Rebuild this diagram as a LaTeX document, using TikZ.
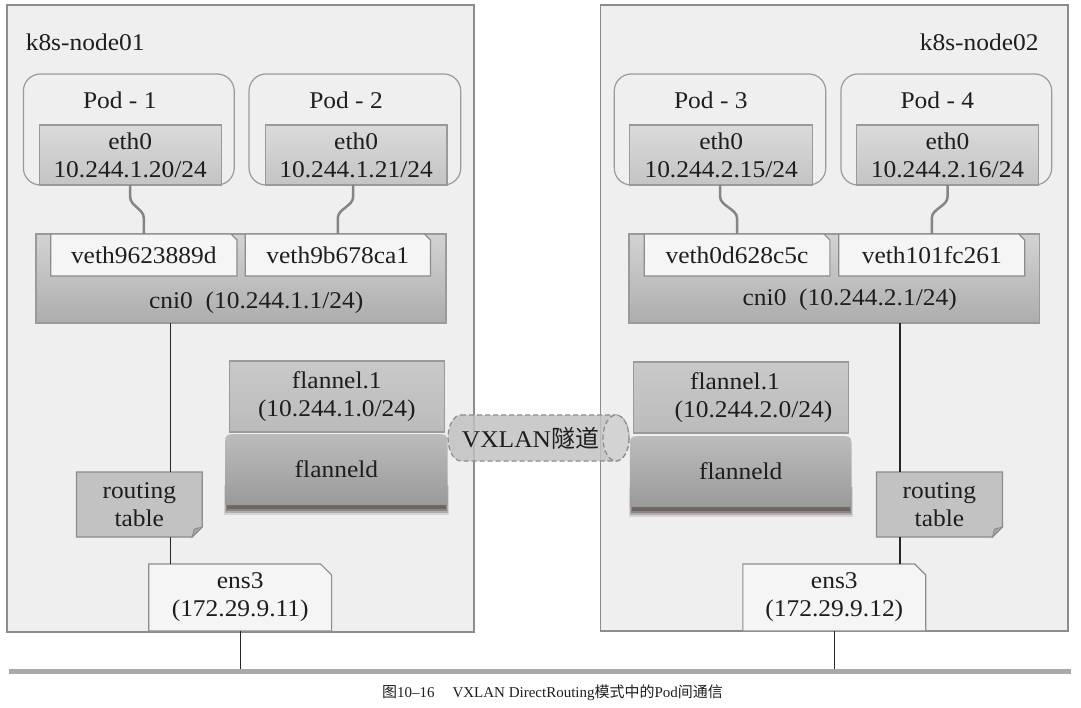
\documentclass[tikz,border=0pt]{standalone}
\usepackage{fontspec}
\setmainfont[FakeStretch=1.06]{Liberation Serif}
\newfontfamily\capfont{Liberation Serif}
\newfontfamily\cjk{Noto Sans CJK SC}
\usetikzlibrary{shadows}
\pgfdeclarelayer{back}
\pgfdeclarelayer{mid}
\pgfsetlayers{back,mid,main}
\definecolor{hostfill}{HTML}{EFEFEF}
\definecolor{hostline}{HTML}{8C8C8C}
\definecolor{podline}{HTML}{9A9A9A}
\definecolor{ethtop}{HTML}{DADADA}
\definecolor{ethbot}{HTML}{C4C4C4}
\definecolor{cnitop}{HTML}{D3D3D3}
\definecolor{cnibot}{HTML}{ADADAD}
\definecolor{vethfill}{HTML}{F5F5F5}
\definecolor{rtfill}{HTML}{C2C2C2}
\definecolor{foldc}{HTML}{A4A4A4}
\definecolor{fltop}{HTML}{C9C9C9}
\definecolor{flbot}{HTML}{BBBBBB}
\definecolor{fldtop}{HTML}{BCBCBC}
\definecolor{fldbot}{HTML}{9A9A9A}
\definecolor{shadowc}{HTML}{4A3C3A}
\definecolor{txt}{HTML}{1E1E1E}
\definecolor{busgray}{HTML}{A9A9A9}
\definecolor{wire}{HTML}{858585}
\definecolor{tunfill}{HTML}{C2C2C2}
\definecolor{tunend}{HTML}{D6D6D6}
\newcommand\cutTR[4]{%
  \begin{pgfonlayer}{mid}
  \filldraw[fill=#3,draw=#4,line width=1.2pt] (#1.south west) -- (#1.north west) -- ([xshift=-#2]#1.north east) -- ([yshift=-#2]#1.north east) -- (#1.south east) -- cycle;
  \end{pgfonlayer}}
\newcommand\cutBR[5]{%
  \begin{pgfonlayer}{mid}
  \filldraw[fill=#3,draw=#4,line width=1.2pt] (#1.south west) -- (#1.north west) -- (#1.north east) -- ([yshift=#2]#1.south east) -- ([xshift=-#2]#1.south east) -- cycle;
  \filldraw[fill=#5,draw=#4,line width=0.8pt] ([yshift=#2]#1.south east) -- ([xshift=-#2]#1.south east) -- ([xshift=-0.8*#2,yshift=0.8*#2]#1.south east) -- cycle;
  \end{pgfonlayer}}
\newcommand\flanneldshape[1]{%
  \begin{pgfonlayer}{mid}
  \foreach \o/\s/\d in {0.15/10pt/0pt,0.25/8pt/1pt,0.35/6pt/2pt,0.45/4pt/3pt}{
    \fill[shadowc,opacity=\o] ([xshift=-1pt+\d,yshift=-\s]#1.south west) rectangle ([xshift=1pt-\d,yshift=20pt]#1.south east);
  }
  \shade[top color=fldtop,bottom color=fldbot]
    (#1.south west) -- ([yshift=-14pt]#1.north west) .. controls (#1.north west) .. ([xshift=14pt]#1.north west)
    -- ([xshift=-14pt]#1.north east) .. controls (#1.north east) .. ([yshift=-14pt]#1.north east) -- (#1.south east) -- cycle;
  \end{pgfonlayer}}
\begin{document}
\begin{tikzpicture}[x=1pt,y=-1pt,font=\fontsize{24}{28}\selectfont,text=txt,
  every node/.style={inner sep=0pt,outer sep=0pt},
  hostbox/.style={draw=hostline,fill=hostfill,line width=1.6pt},
  podbox/.style={draw=podline,line width=1.2pt,rounded corners=17pt},
  ethbox/.style={draw=podline,line width=1.2pt,top color=ethtop,bottom color=ethbot,align=center},
  cnibox/.style={draw=podline,line width=1.2pt,top color=cnitop,bottom color=cnibot},
  flbox/.style={draw=podline,line width=1.2pt,top color=fltop,bottom color=flbot,align=center},
  multi/.style={align=center},
  wave/.style={draw=wire,line width=2.5pt},
  link/.style={draw=black!85,line width=1.2pt},
  tunnel/.style={draw=hostline,line width=1.2pt,dash pattern=on 5pt off 3pt,fill opacity=.85}
]
\useasboundingbox (0,0) rectangle (1081,708);
\begin{pgfonlayer}{back}
  \fill[white] (0,0) rectangle (1081,708);
  \node[hostbox,minimum width=467pt,minimum height=627pt] (host1) at (240.7,318.5) {};
  \node[hostbox,minimum width=467.6pt,minimum height=626pt] (host2) at (834.2,318) {};
  \node[cnibox,minimum width=410pt,minimum height=89pt] (cni1) at (240.9,278.5) {};
  \node[cnibox,minimum width=410.7pt,minimum height=89pt] (cni2) at (834.4,278.5) {};
\end{pgfonlayer}

\node[anchor=west] (lab1) at (25.8,42) {k8s-node01};
\node[anchor=east] (lab2) at (1038.6,42) {k8s-node02};

% pods
\node[podbox,minimum width=210.8pt,minimum height=111pt] (pod1) at (128.8,129.5) {};
\node[podbox,minimum width=211.7pt,minimum height=111pt] (pod2) at (354.9,129.5) {};
\node[podbox,minimum width=211.5pt,minimum height=111pt] (pod3) at (720,129.5) {};
\node[podbox,minimum width=210.8pt,minimum height=111pt] (pod4) at (946.3,129.5) {};
\node (pl1) at (119.8,100) {Pod - 1};
\node (pl2) at (346,100) {Pod - 2};
\node (pl3) at (710.8,100) {Pod - 3};
\node (pl4) at (937.3,100) {Pod - 4};

\node[ethbox,minimum width=181.8pt,minimum height=60pt] (eth1) at (130.2,155) {eth0\\10.244.1.20/24};
\node[ethbox,minimum width=181.8pt,minimum height=60pt] (eth2) at (356.1,155) {eth0\\10.244.1.21/24};
\node[ethbox,minimum width=182.9pt,minimum height=60pt] (eth3) at (721.2,155) {eth0\\10.244.2.15/24};
\node[ethbox,minimum width=182.2pt,minimum height=60pt] (eth4) at (947.5,155) {eth0\\10.244.2.16/24};

% veth
\node[minimum width=186.3pt,minimum height=42pt] (veth1) at (143.8,255) {veth9623889d};
\node[minimum width=185.2pt,minimum height=42pt] (veth2) at (337.8,255) {veth9b678ca1};
\node[minimum width=185.7pt,minimum height=42pt] (veth3) at (737,255) {veth0d628c5c};
\node[minimum width=186pt,minimum height=42pt] (veth4) at (931.8,255) {veth101fc261};
\cutTR{veth1}{6pt}{vethfill}{hostline}
\cutTR{veth2}{6pt}{vethfill}{hostline}
\cutTR{veth3}{6pt}{vethfill}{hostline}
\cutTR{veth4}{6pt}{vethfill}{hostline}

\node (cnit1) at (256.2,303) {cni0\ \ (10.244.1.1/24)};
\node (cnit2) at (849.7,300) {cni0\ \ (10.244.2.1/24)};

% wavy links
\draw[wave] (eth1.south) -- ++(0,12) .. controls +(0,9) and +(0,-9) .. ([yshift=16pt]veth1.north) -- (veth1.north);
\draw[wave] ([xshift=-3pt]eth2.south) -- ++(0,12) .. controls +(0,9) and +(0,-9) .. ([yshift=16pt]veth2.north) -- (veth2.north);
\draw[wave] ([xshift=-1pt]eth3.south) -- ++(0,12) .. controls +(0,9) and +(0,-9) .. ([yshift=16pt]veth3.north) -- (veth3.north);
\draw[wave] (eth4.south) -- ++(0,12) .. controls +(0,9) and +(0,-9) .. ([yshift=16pt]veth4.north) -- (veth4.north);

% routing tables and ens3
\node[multi,minimum width=125.7pt,minimum height=65pt] (rt1) at (139.3,504.5) {routing\\table};
\node[multi,minimum width=126pt,minimum height=65pt] (rt2) at (939.4,504.5) {routing\\table};
\cutBR{rt1}{10pt}{rtfill}{hostline}{foldc}
\cutBR{rt2}{10pt}{rtfill}{hostline}{foldc}
\node[multi,minimum width=182.8pt,minimum height=67pt] (ens1) at (240.2,597.5) {ens3\\(172.29.9.11)};
\node[multi,minimum width=182.9pt,minimum height=67pt] (ens2) at (834.3,597.5) {ens3\\(172.29.9.12)};
\cutTR{ens1}{11pt}{vethfill}{hostline}
\cutTR{ens2}{11pt}{vethfill}{hostline}

% flannel
\node[flbox,minimum width=214.9pt,minimum height=71pt] (fl1) at (336.8,396.5) {flannel.1\\(10.244.1.0/24)};
\node[flbox,minimum width=215.6pt,minimum height=71pt] (fl2) at (741,397.5) {\hspace*{-12pt}flannel.1\\\hspace*{25pt}(10.244.2.0/24)};
\node[minimum width=222.5pt,minimum height=71pt] (fld1) at (336.4,469.5) {flanneld};
\node[minimum width=221.9pt,minimum height=71pt] (fld2) at (740.7,471.5) {flanneld};
\flanneldshape{fld1}
\flanneldshape{fld2}

% links
\coordinate (c1) at (170.1,0);
\coordinate (c2) at (899.9,0);
\coordinate (busL) at (9.3,671);
\coordinate (busR) at (1070.7,671);
\draw[link] (cni1.south -| c1) -- (rt1.north -| c1);
\draw[link] (rt1.south -| c1) -- (ens1.north -| c1);
\draw[link] (cni2.south -| c2) -- (rt2.north -| c2);
\draw[link] (rt2.south -| c2) -- (ens2.north -| c2);
\draw[link] (ens1.south) -- (ens1.south |- busL);
\draw[link] (ens2.south) -- (ens2.south |- busL);
\draw[busgray,line width=5pt] (busL) -- (busR);

% tunnel
\filldraw[tunnel,fill=tunfill] (461,415) -- (616,415) arc[start angle=-90,end angle=90,x radius=13,y radius=23]
  -- (461,461) arc[start angle=90,end angle=270,x radius=13,y radius=23] -- cycle;
\filldraw[tunnel,fill=tunend] (616,438) ellipse[x radius=13,y radius=23];
\node (tun) at (530.5,438) {VXLAN{\cjk 隧道}};

% caption
\node (cap) at (552.5,693) {\fontsize{15}{17}\selectfont{\cjk 图}\capfont 10–16\hspace{18pt}VXLAN DirectRouting{\cjk 模式中的}Pod{\cjk 间通信}};
\end{tikzpicture}
\end{document}
